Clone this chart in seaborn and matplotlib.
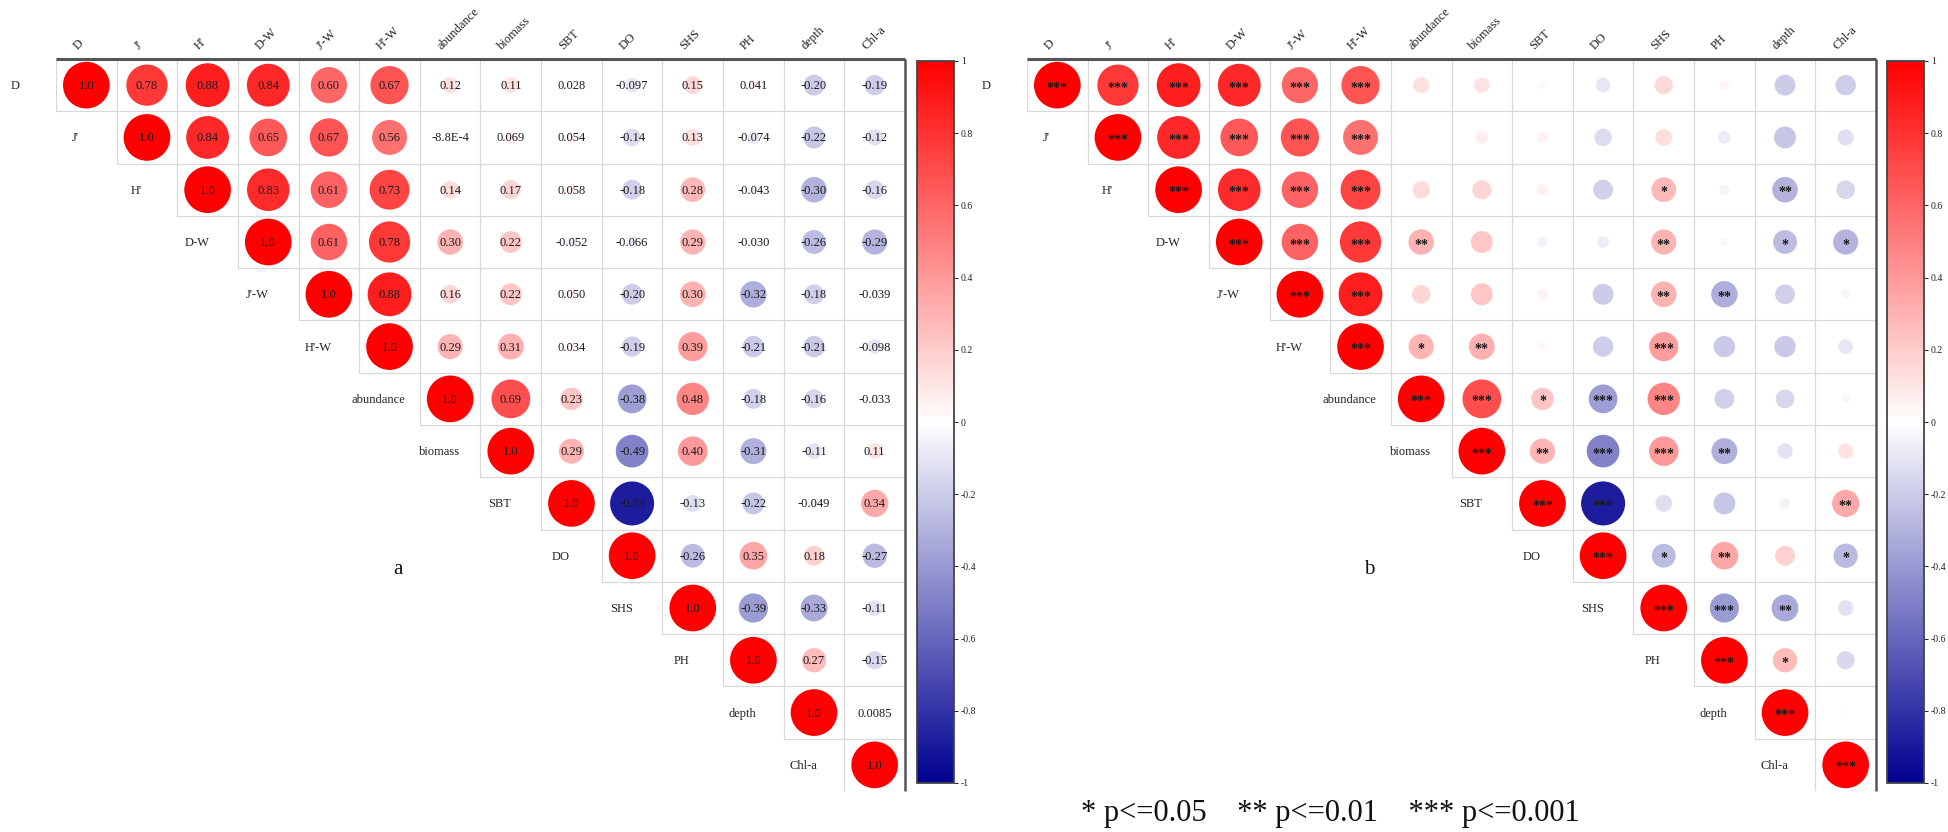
import numpy as np
import pandas as pd
import matplotlib
matplotlib.use("Agg")
import matplotlib.pyplot as plt
import seaborn as sns
from matplotlib.colors import LinearSegmentedColormap, Normalize
from matplotlib.cm import ScalarMappable

# ---------------- data ----------------
variables = ["D", "J'", "H'", "D-W", "J'-W", "H'-W", "abundance", "biomass",
             "SBT", "DO", "SHS", "PH", "depth", "Chl-a"]

# upper-triangle correlation rows (starting at the diagonal)
r_D        = [1.0, 0.78, 0.88, 0.84, 0.60, 0.67, 0.12, 0.11, 0.028, -0.097, 0.15, 0.041, -0.20, -0.19]
r_J        = [1.0, 0.84, 0.65, 0.67, 0.56, -8.8e-4, 0.069, 0.054, -0.14, 0.13, -0.074, -0.22, -0.12]
r_H        = [1.0, 0.83, 0.61, 0.73, 0.14, 0.17, 0.058, -0.18, 0.28, -0.043, -0.30, -0.16]
r_DW       = [1.0, 0.61, 0.78, 0.30, 0.22, -0.052, -0.066, 0.29, -0.030, -0.26, -0.29]
r_JW       = [1.0, 0.88, 0.16, 0.22, 0.050, -0.20, 0.30, -0.32, -0.18, -0.039]
r_HW       = [1.0, 0.29, 0.31, 0.034, -0.19, 0.39, -0.21, -0.21, -0.098]
r_abund    = [1.0, 0.69, 0.23, -0.38, 0.48, -0.18, -0.16, -0.033]
r_biomass  = [1.0, 0.29, -0.49, 0.40, -0.31, -0.11, 0.11]
r_SBT      = [1.0, -0.89, -0.13, -0.22, -0.049, 0.34]
r_DO       = [1.0, -0.26, 0.35, 0.18, -0.27]
r_SHS      = [1.0, -0.39, -0.33, -0.11]
r_PH       = [1.0, 0.27, -0.15]
r_depth    = [1.0, 0.0085]
r_Chla     = [1.0]

# significance stars (upper triangle, starting at the diagonal)
s_D        = ["***", "***", "***", "***", "***", "***", "", "", "", "", "", "", "", ""]
s_J        = ["***", "***", "***", "***", "***", "", "", "", "", "", "", "", ""]
s_H        = ["***", "***", "***", "***", "", "", "", "", "*", "", "**", ""]
s_DW       = ["***", "***", "***", "**", "", "", "", "**", "", "*", "*"]
s_JW       = ["***", "***", "", "", "", "", "**", "**", "", ""]
s_HW       = ["***", "*", "**", "", "", "***", "", "", ""]
s_abund    = ["***", "***", "*", "***", "***", "", "", ""]
s_biomass  = ["***", "**", "***", "***", "**", "", ""]
s_SBT      = ["***", "***", "", "", "", "**"]
s_DO       = ["***", "*", "**", "", "*"]
s_SHS      = ["***", "***", "**", ""]
s_PH       = ["***", "*", ""]
s_depth    = ["***", ""]
s_Chla     = ["***"]

cbar_ticks = [-1, -0.8, -0.6, -0.4, -0.2, 0, 0.2, 0.4, 0.6, 0.8, 1]
legend_text = "* p<=0.05    ** p<=0.01    *** p<=0.001"

r_rows = [r_D, r_J, r_H, r_DW, r_JW, r_HW, r_abund, r_biomass, r_SBT, r_DO,
          r_SHS, r_PH, r_depth, r_Chla]
s_rows = [s_D, s_J, s_H, s_DW, s_JW, s_HW, s_abund, s_biomass, s_SBT, s_DO,
          s_SHS, s_PH, s_depth, s_Chla]

recs = []
for i, (rr, ss) in enumerate(zip(r_rows, s_rows)):
    for k, (v, st) in enumerate(zip(rr, ss)):
        recs.append(dict(row=i, col=i + k, r=v, absr=abs(v), star=st))
df = pd.DataFrame(recs)


def fmt(v):
    if v == 1.0:
        return "1.0"
    if abs(v) < 1e-3:
        m, e = f"{v:.1E}".split("E")
        return f"{m}E{int(e)}"
    d = 2 - int(np.floor(np.log10(abs(v)))) - 1
    return f"{v:.{d}f}"


# ---------------- style ----------------
sns.set_theme(style="white")
plt.rcParams["font.family"] = ["Liberation Serif", "DejaVu Serif"]

cmap = LinearSegmentedColormap.from_list("nwr", ["#000090", "#FFFFFF", "#FF0000"])
n = len(variables)

W, H = 1949, 832
fig = plt.figure(figsize=(W / 100, H / 100), dpi=100)


def fx(px):
    return px / W


def fy(py):
    return 1 - py / H


def draw_panel(left_px, cbar_px, mode, letter, letter_px):
    gl, gr, gt, gb = left_px, left_px + 849, 59, 791
    ax = fig.add_axes([fx(gl), fy(gb), fx(gr) - fx(gl), fy(gt) - fy(gb)])
    sns.scatterplot(data=df, x="col", y="row", hue="r", palette=cmap,
                    hue_norm=(-1, 1), size="absr", sizes=(0, 1130),
                    size_norm=(0, 1), linewidth=0, legend=False, ax=ax,
                    zorder=3)
    ax.set_xlim(-0.5, n - 0.5)
    ax.set_ylim(n - 0.5, -0.5)
    ax.axis("off")

    # cell borders of the upper triangle
    for i in range(n):
        ax.plot([i - 0.5, n - 0.5], [i + 0.5, i + 0.5], color="#d9d9d9", lw=0.9, zorder=1)
        ax.plot([i - 0.5, i - 0.5], [-0.5, i + 0.5], color="#d9d9d9", lw=0.9, zorder=1)
    ax.plot([-0.5, n - 0.5], [-0.5, -0.5], color="#555555", lw=2.2, zorder=4,
            clip_on=False, solid_capstyle="butt")
    ax.plot([n - 0.5, n - 0.5], [-0.5, n - 0.5], color="#555555", lw=1.8, zorder=4,
            clip_on=False, solid_capstyle="butt")

    # labels
    for j, name in enumerate(variables):
        ax.text(j - 0.14, -0.68, name, rotation=45, rotation_mode="anchor",
                ha="left", va="baseline", fontsize=9, color="#222222")
        ax.text(j - 1.18, j + 0.02, name, ha="center", va="center",
                fontsize=9, color="#222222")

    for _, rec in df.iterrows():
        if mode == "value":
            ax.text(rec.col, rec.row + 0.02, fmt(rec.r), ha="center", va="center",
                    fontsize=9, color="#1a1a1a", zorder=5)
        elif rec.star:
            ax.text(rec.col, rec.row + 0.06, rec.star, ha="center", va="center",
                    fontsize=10, color="#1a1a1a", zorder=5, fontweight="bold")

    cax = fig.add_axes([fx(cbar_px), fy(783), fx(37), fy(61) - fy(783)])
    cb = fig.colorbar(ScalarMappable(norm=Normalize(-1, 1), cmap=cmap), cax=cax,
                      ticks=cbar_ticks)
    cb.ax.set_yticklabels([f"{t:g}" for t in cbar_ticks])
    cb.ax.tick_params(labelsize=7, length=3, width=0.7, colors="#222222", pad=2)
    cb.outline.set_edgecolor("#444444")
    cb.outline.set_linewidth(1.3)

    fig.text(fx(letter_px[0]), fy(letter_px[1]), letter, fontsize=15,
             ha="center", va="center", color="#111111")


draw_panel(56, 917, "value", "a", (398, 570))
draw_panel(1027, 1887, "star", "b", (1369, 570))

fig.text(fx(1330), fy(814), legend_text, fontsize=22, ha="center", va="center",
         color="#111111")

fig.savefig("out.png", dpi=100, facecolor="white")
